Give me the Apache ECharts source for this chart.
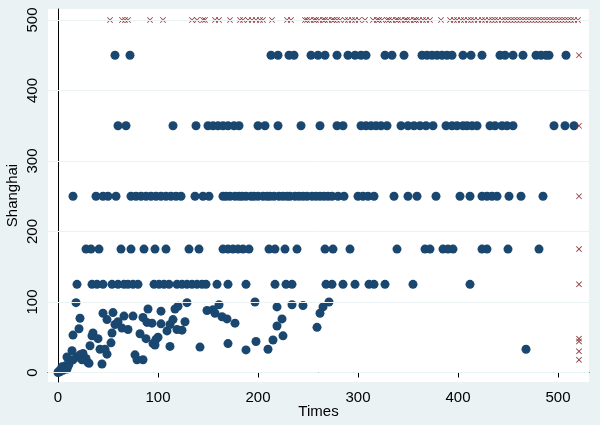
<!DOCTYPE html>
<html>
<head>
<meta charset="utf-8">
<script src="https://cdn.jsdelivr.net/npm/echarts@6/dist/echarts.min.js"></script>
<style>
  html, body { margin: 0; padding: 0; background: #eaf2f3; }
  #chart { width: 600px; height: 425px; }
</style>
</head>
<body>
<div id="chart"></div>
<script>
// tick labels
var xTicks = [0, 100, 200, 300, 400, 500];
var yTicks = [0, 100, 200, 300, 400, 500];

// blue dots sitting on fixed levels (x positions per level)
var row450X = [57, 72, 213, 220, 231, 236, 253, 260, 267, 279, 290, 297, 303, 308, 327, 334, 346, 364, 369, 374, 379, 384, 389, 394, 405, 413, 424, 442, 447, 455, 465, 478, 483, 488, 491, 508];
var row350X = [60, 68, 115, 138, 150, 155, 160, 165, 170, 176, 181, 200, 207, 220, 243, 262, 279, 285, 303, 308, 313, 318, 323, 329, 343, 350, 356, 362, 368, 375, 388, 394, 399, 405, 409, 414, 419, 432, 437, 444, 449, 455, 496, 507, 516];
var row250X = [15, 38, 45, 50, 58, 73, 78, 83, 88, 93, 98, 103, 108, 113, 118, 123, 137, 145, 151,
  165, 168, 172, 177, 181, 184, 188, 193, 196, 200, 205, 209, 212, 216, 221, 225, 229, 232, 237, 241, 245, 249, 254, 258, 262, 266, 270,
  274, 280, 286, 300, 305, 310, 316, 336, 350, 359, 378, 402, 412, 424, 429, 434, 439, 451, 463, 485];
var row175X = [28, 33, 41, 63, 73, 86, 97, 108, 131, 141, 165, 170, 175, 180, 185, 191, 211, 217, 227, 239, 267, 275, 292, 339, 367, 372, 385, 390, 395, 424, 429, 450, 481];
var row125X = [19, 34, 39, 45, 54, 60, 66, 70, 75, 80, 96, 101, 106, 111, 119, 124, 129, 134, 139, 144, 148, 159, 170, 188, 217, 228, 234, 268, 274, 285, 297, 311, 316, 327, 355, 412];

// blue dots below 100
var lowX = [0, 1, 2, 3, 4, 5, 7, 8, 9, 10, 11, 9, 14, 15, 15, 18, 19, 21, 22, 22, 24, 25, 28, 30, 31, 32, 34, 35, 40, 42, 44, 45, 47, 49, 49, 53, 54, 55, 57, 60, 64, 66, 70, 75, 77, 79, 82, 85, 85, 88, 89, 90, 94, 95, 97, 98, 100, 103, 103, 109, 112, 112, 115, 117, 119, 120, 124, 127, 129, 142, 149, 155, 157, 161, 164, 169, 170, 177, 188, 197, 198, 210, 215, 219, 219, 224, 225, 234, 245, 259, 262, 265, 271, 468];
var lowY = [0, 2, 1, 4, 8, 3, 6, 10, 5, 9, 12, 22, 31, 18, 53, 99, 22, 62, 25, 77, 18, 27, 20, 14, 13, 38, 52, 56, 48, 33, 12, 84, 33, 75, 26, 42, 56, 85, 68, 72, 63, 80, 61, 80, 25, 18, 55, 18, 78, 48, 71, 90, 70, 41, 39, 47, 50, 87, 69, 59, 37, 68, 75, 90, 61, 94, 60, 72, 99, 36, 88, 89, 84, 96, 79, 76, 41, 70, 32, 100, 44, 33, 46, 93, 66, 76, 52, 96, 95, 64, 84, 93, 100, 33];

// red crosses on the 500 line
var red500X = [52, 64, 67, 70, 92, 105, 134, 139, 145, 147, 157, 161, 172, 182, 185, 190, 194, 198, 202, 205, 214, 229, 233,
  247, 249, 252, 256, 258, 261, 265, 267, 270, 274, 276, 279, 282, 287, 290, 294, 297, 301, 307, 315, 319, 321, 324,
  329, 331, 334, 338, 340, 343, 347, 349, 352, 356, 358, 361, 365, 368, 372, 383, 392, 396, 399, 403, 406, 410, 413, 416, 420, 424,
  427, 431, 434, 437, 440, 444, 447, 450, 453, 456, 459, 462, 465, 468, 471, 474, 477, 480, 483, 486, 489, 492, 495, 498, 501, 504, 507, 510, 513, 516, 520];
// red crosses in the last column
var redRightX = 521;
var redRightY = [450, 350, 250, 175, 125, 48, 44, 30, 18];

var blue = '#1a476f';
var red = '#90353b';
var crossPath = 'path://M0,1L1,0L5,4L9,0L10,1L6,5L10,9L9,10L5,6L1,10L0,9L4,5Z';

function levelPts(xs, y) {
  return xs.map(function (x) { return [x, y]; });
}

var blueData = []
  .concat(levelPts(row450X, 450))
  .concat(levelPts(row350X, 350))
  .concat(levelPts(row250X, 250))
  .concat(levelPts(row175X, 175))
  .concat(levelPts(row125X, 125));
for (var i = 0; i < lowX.length; i++) {
  blueData.push([lowX[i], lowY[i]]);
}

var redData = levelPts(red500X, 500);
for (var j = 0; j < redRightY.length; j++) {
  redData.push([redRightX, redRightY[j]]);
}

var myChart = echarts.init(document.getElementById('chart'));

var labelFont = { fontFamily: 'Liberation Sans, Arial, sans-serif', fontSize: 15, color: '#000' };

var option = {
  backgroundColor: '#eaf2f3',
  animation: false,
  grid: {
    left: 48, right: 11, top: 9, bottom: 43,
    containLabel: false,
    outerBoundsMode: 'none',
    show: true, backgroundColor: '#ffffff', borderWidth: 0
  },
  xAxis: {
    type: 'value',
    min: -10, max: 531,
    name: 'Times',
    nameLocation: 'middle',
    nameGap: 22,
    nameMoveOverlap: false,
    nameTextStyle: labelFont,
    axisLine: { show: true, lineStyle: { color: '#000', width: 1 } },
    axisTick: { show: true, length: 5, lineStyle: { color: '#000' }, customValues: xTicks },
    axisLabel: Object.assign({ margin: 8, customValues: xTicks }, labelFont),
    splitLine: { show: false }
  },
  yAxis: {
    type: 'value',
    min: -13.5, max: 515.6,
    name: 'Shanghai',
    nameLocation: 'middle',
    nameGap: 28,
    nameMoveOverlap: false,
    nameTextStyle: labelFont,
    axisLine: { show: true, lineStyle: { color: '#000', width: 1 } },
    axisTick: { show: true, length: 5, lineStyle: { color: '#000' }, customValues: yTicks },
    axisLabel: Object.assign({ margin: 8, rotate: 90, customValues: yTicks }, labelFont),
    splitLine: { show: false }
  },
  series: [
    {
      // horizontal grid lines
      type: 'scatter',
      data: [],
      silent: true,
      z: 1,
      markLine: {
        silent: true,
        symbol: 'none',
        label: { show: false },
        lineStyle: { color: '#eaf2f3', width: 1, type: 'solid' },
        data: yTicks.map(function (v) { return { yAxis: v }; })
      }
    },
    {
      type: 'scatter',
      data: blueData,
      symbol: 'circle',
      symbolSize: 9,
      itemStyle: { color: blue, opacity: 1 },
      z: 3
    },
    {
      type: 'scatter',
      data: redData,
      symbol: crossPath,
      symbolSize: 6,
      itemStyle: { color: red, opacity: 1 },
      z: 4
    }
  ]
};

myChart.setOption(option);
</script>
</body>
</html>
